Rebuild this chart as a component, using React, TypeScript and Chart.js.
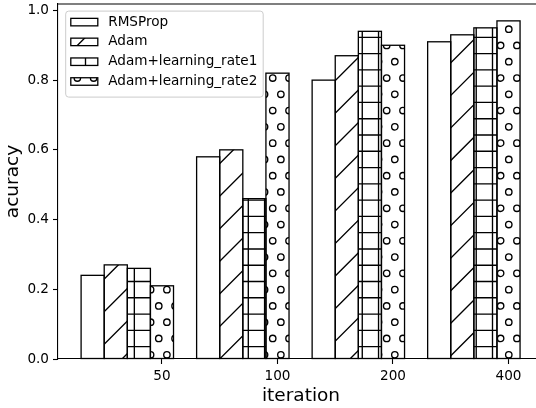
import React, { useEffect, useRef } from 'react';
import { Chart, registerables } from 'chart.js';

Chart.register(...registerables);

// ---- data ----
const categories = ['50', '100', '200', '400'];
const seriesNames = ['RMSProp', 'Adam', 'Adam+learning_rate1', 'Adam+learning_rate2'];
const rmsprop = [0.24, 0.58, 0.8, 0.91];
const adam = [0.27, 0.6, 0.87, 0.93];
const adamLr1 = [0.26, 0.46, 0.94, 0.95];
const adamLr2 = [0.21, 0.82, 0.9, 0.97];
const seriesValues = [rmsprop, adam, adamLr1, adamLr2];
const seriesHatches = ['', '/', '+', 'o'];
// bar position of each series relative to its category tick (category units)
const barOffsets = [-0.6, -0.4, -0.2, 0];
const yTicks = [0, 0.2, 0.4, 0.6, 0.8, 1.0];
const xTitle = 'iteration';
const yTitle = 'acuracy';

// ---- style / layout ----
const W = 536;
const H = 408;
const FONT = '"DejaVu Sans", sans-serif';
const X_MIN = -0.9;
const X_MAX = 3.238;
const Y_MAX = 1.0184;
const HATCH_STEP = 16.28;
const HATCH_X0 = 4.1;
const HATCH_Y0 = 4.75;
const EDGE_W = 1.3;

function makeHatchCanvas(kind: string): HTMLCanvasElement {
  const c = document.createElement('canvas');
  c.width = W;
  c.height = H;
  const g = c.getContext('2d')!;
  g.fillStyle = '#ffffff';
  g.fillRect(0, 0, W, H);
  g.strokeStyle = '#000000';
  g.lineWidth = 1.35;
  const s = HATCH_STEP;
  g.beginPath();
  if (kind === '/') {
    const c0 = HATCH_X0 + HATCH_Y0 + s;
    for (let k = -3; c0 + k * 2 * s < W + H + 2 * s; k++) {
      const cc = c0 + k * 2 * s;
      g.moveTo(cc + 2, -2);
      g.lineTo(cc - H - 2, H + 2);
    }
  } else if (kind === '+') {
    for (let i = -1; HATCH_X0 + i * s < W + s; i++) {
      const x = HATCH_X0 + i * s;
      g.moveTo(x, 0);
      g.lineTo(x, H);
    }
    for (let i = -1; HATCH_Y0 + i * s < H + s; i++) {
      const y = HATCH_Y0 + i * s;
      g.moveTo(0, y);
      g.lineTo(W, y);
    }
  } else if (kind === 'o') {
    const r = 3.2;
    for (let k = -2; HATCH_Y0 + s / 2 + k * s < H + s; k++) {
      const y = HATCH_Y0 + s / 2 + k * s;
      const xo = Math.abs(k) % 2 === 1 ? HATCH_X0 : HATCH_X0 + s / 2;
      for (let m = -1; xo + m * s < W + s; m++) {
        const x = xo + m * s;
        g.moveTo(x + r, y);
        g.arc(x, y, r, 0, Math.PI * 2);
      }
    }
  }
  g.stroke();
  return c;
}

const barEdges = {
  id: 'barEdges',
  afterDatasetsDraw(chart: any) {
    const ctx = chart.ctx;
    ctx.save();
    ctx.strokeStyle = '#000';
    ctx.lineWidth = EDGE_W;
    chart.data.datasets.forEach((_: any, di: number) => {
      const meta = chart.getDatasetMeta(di);
      meta.data.forEach((el: any) => {
        const p = el.getProps(['x', 'y', 'base', 'width'], true);
        ctx.strokeRect(p.x - p.width / 2, p.y, p.width, p.base - p.y);
      });
    });
    ctx.restore();
  },
};

function makeDecor(fills: CanvasPattern[]) {
  return {
    id: 'decor',
    afterDraw(chart: any) {
      const ctx = chart.ctx;
      const a = chart.chartArea;
      ctx.save();
      // top spine
      ctx.strokeStyle = '#000';
      ctx.lineWidth = 1.1;
      ctx.beginPath();
      ctx.moveTo(a.left, a.top);
      ctx.lineTo(a.right, a.top);
      ctx.stroke();

      // axis titles
      ctx.fillStyle = '#000';
      ctx.font = `18.5px ${FONT}`;
      ctx.textAlign = 'center';
      ctx.textBaseline = 'alphabetic';
      ctx.fillText(xTitle, 301, 401);
      ctx.save();
      ctx.translate(17.5, (a.top + a.bottom) / 2);
      ctx.rotate(-Math.PI / 2);
      ctx.fillText(yTitle, 0, 0);
      ctx.restore();

      // legend
      const lx = a.left + 7.2;
      const ly = a.top + 6.6;
      const lw = 197.5;
      const lh = 86;
      ctx.beginPath();
      ctx.roundRect(lx + 0.5, ly + 0.5, lw, lh, 3);
      ctx.fillStyle = 'rgba(255,255,255,0.8)';
      ctx.fill();
      ctx.strokeStyle = '#cccccc';
      ctx.lineWidth = 1;
      ctx.stroke();
      ctx.font = `13.6px ${FONT}`;
      ctx.textAlign = 'left';
      ctx.textBaseline = 'middle';
      seriesNames.forEach((name, i) => {
        const cy = ly + 11.5 + i * 19.8;
        const hx = lx + 5.6;
        const hw = 27;
        const hh = 7.5;
        ctx.fillStyle = fills[i];
        ctx.fillRect(hx, cy - hh / 2, hw, hh);
        ctx.strokeStyle = '#000';
        ctx.lineWidth = EDGE_W;
        ctx.strokeRect(hx, cy - hh / 2, hw, hh);
        ctx.fillStyle = '#000';
        ctx.fillText(name, lx + 43, cy);
      });
      ctx.restore();
    },
  };
}

export default function App() {
  const ref = useRef<HTMLCanvasElement>(null);
  useEffect(() => {
    document.body.style.margin = '0';
    const canvas = ref.current!;
    const ctx = canvas.getContext('2d')!;
    const fills = seriesHatches.map((h) => ctx.createPattern(makeHatchCanvas(h), 'repeat')!);
    const datasets = seriesValues.map((vals, k) => ({
      label: seriesNames[k],
      data: vals.map((v, i) => ({ x: i + barOffsets[k], y: v })),
      backgroundColor: fills[k],
      borderWidth: 0,
      grouped: false,
      categoryPercentage: 1,
      barPercentage: 1,
      inflateAmount: 0,
    }));
    const tickFont = { family: FONT, size: 13.6 };
    const chart = new Chart(canvas, {
      type: 'bar',
      data: { datasets } as any,
      plugins: [barEdges, makeDecor(fills)],
      options: {
        animation: false,
        responsive: false,
        devicePixelRatio: 1,
        layout: { padding: { top: 4, left: 0, right: 0, bottom: 0 } },
        plugins: { legend: { display: false }, tooltip: { enabled: false } },
        scales: {
          x: {
            type: 'linear',
            min: X_MIN,
            max: X_MAX,
            offset: false,
            grid: { drawOnChartArea: false, offset: false, tickLength: 5, tickColor: '#000', tickWidth: 1.1 },
            border: { color: '#000', width: 1.1 },
            ticks: {
              autoSkip: false,
              maxRotation: 0,
              padding: 4,
              color: '#000',
              font: tickFont,
              callback: (v: any) => categories[Math.round(Number(v))] ?? '',
            },
            afterBuildTicks: (s: any) => {
              s.ticks = categories.map((_, i) => ({ value: i }));
            },
            afterFit: (s: any) => {
              s.height = 49;
              s.paddingLeft = 0;
              s.paddingRight = 0;
            },
          },
          y: {
            type: 'linear',
            min: 0,
            max: Y_MAX,
            grid: { drawOnChartArea: false, tickLength: 5, tickColor: '#000', tickWidth: 1.1 },
            border: { color: '#000', width: 1.1 },
            ticks: {
              padding: 4,
              color: '#000',
              font: tickFont,
              callback: (v: any) => Number(v).toFixed(1),
            },
            afterBuildTicks: (s: any) => {
              s.ticks = yTicks.map((v) => ({ value: v }));
            },
            afterFit: (s: any) => {
              s.width = 58;
              s.paddingTop = 0;
              s.paddingBottom = 0;
            },
          },
        },
      } as any,
    });
    return () => chart.destroy();
  }, []);
  return <canvas ref={ref} width={W} height={H} style={{ display: 'block' }} />;
}
